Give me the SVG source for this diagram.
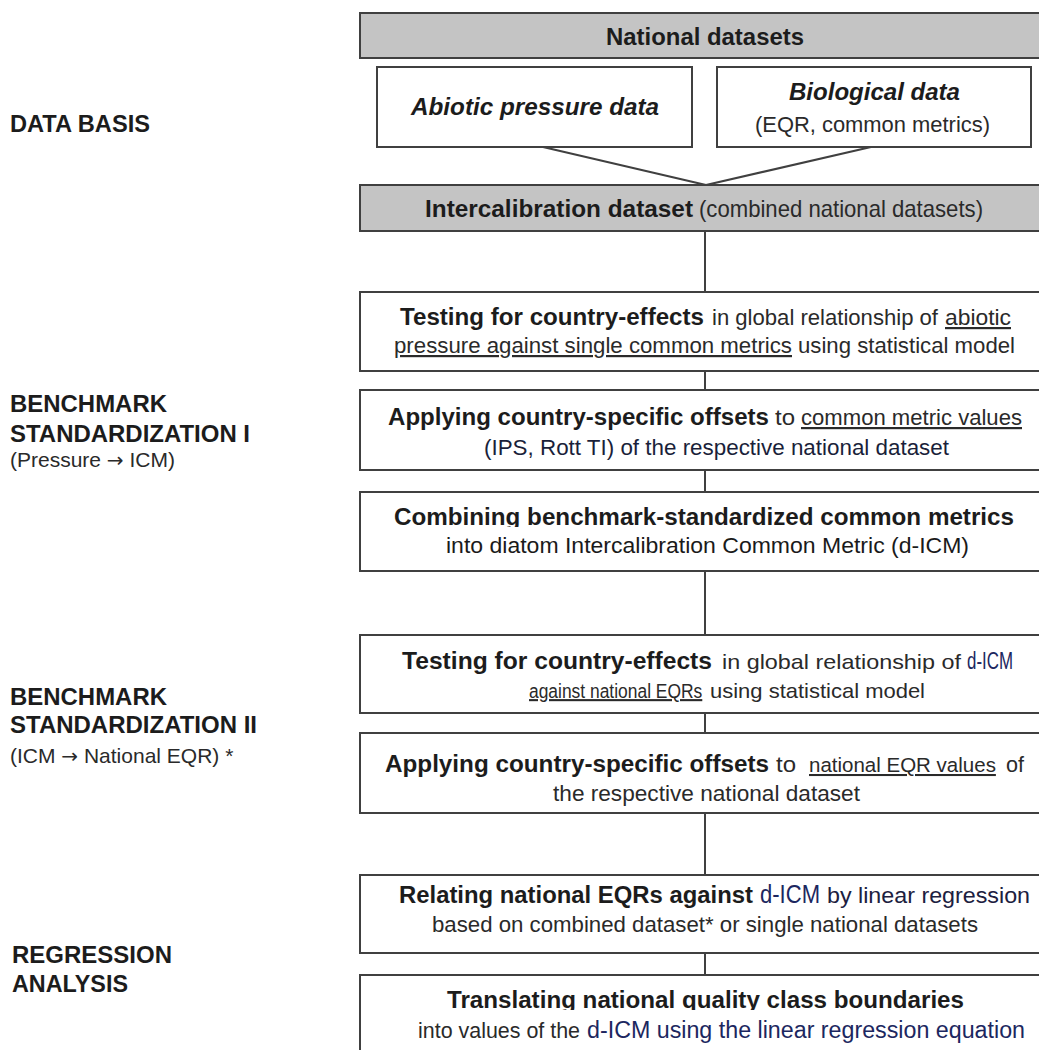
<svg xmlns="http://www.w3.org/2000/svg" width="1039" height="1050" viewBox="0 0 1039 1050">
<style>
.box{fill:#fff;stroke:#404040;stroke-width:2}
.gbox{fill:#c4c4c4;stroke:#404040;stroke-width:2}
.conn{stroke:#404040;stroke-width:2;fill:none}
text{font-family:"Liberation Sans",Arial,sans-serif;fill:#1c1c1c}
.b{font-weight:bold;font-size:23px}
.bi{font-weight:bold;font-style:italic;font-size:24px}
.r{font-size:22px;fill:#2a2a2a}
.n{font-size:23px;fill:#1c2760}
.u{text-decoration:underline}
.lb{font-weight:bold;font-size:23px}
.lr{font-size:21px;fill:#2a2a2a}
.ar{font-family:"DejaVu Sans",sans-serif;font-size:20px}
</style>
<defs>
<clipPath id="clipComb"><rect x="0" y="480" width="1039" height="47"/></clipPath>
<clipPath id="clipTrans"><rect x="0" y="970" width="1039" height="40"/></clipPath>
</defs>
<rect width="1039" height="1050" fill="#fff"/>

<g id="connectors">
<line class="conn" x1="543" y1="147" x2="706" y2="185"/>
<line class="conn" x1="871" y1="147" x2="706" y2="185"/>
<line class="conn" x1="705" y1="231" x2="705" y2="292"/>
<line class="conn" x1="705" y1="371" x2="705" y2="390"/>
<line class="conn" x1="705" y1="470" x2="705" y2="492"/>
<line class="conn" x1="705" y1="571" x2="705" y2="635"/>
<line class="conn" x1="705" y1="713" x2="705" y2="733"/>
<line class="conn" x1="705" y1="813" x2="705" y2="875"/>
<line class="conn" x1="705" y1="953" x2="705" y2="975"/>
</g>

<g id="labels">
<text class="lb" x="10" y="132" textLength="140" lengthAdjust="spacingAndGlyphs">DATA BASIS</text>
<text class="lb" x="10" y="412" textLength="157" lengthAdjust="spacingAndGlyphs">BENCHMARK</text>
<text class="lb" x="10" y="442" textLength="240" lengthAdjust="spacingAndGlyphs">STANDARDIZATION I</text>
<text class="lr" x="10" y="467">(Pressure <tspan class="ar">→</tspan> ICM)</text>
<text class="lb" x="10" y="705" textLength="157" lengthAdjust="spacingAndGlyphs">BENCHMARK</text>
<text class="lb" x="10" y="733" textLength="247" lengthAdjust="spacingAndGlyphs">STANDARDIZATION II</text>
<text class="lr" x="10" y="763">(ICM <tspan class="ar">→</tspan> National EQR) *</text>
<text class="lb" x="12" y="963" textLength="160" lengthAdjust="spacingAndGlyphs">REGRESSION</text>
<text class="lb" x="12" y="992" textLength="116" lengthAdjust="spacingAndGlyphs">ANALYSIS</text>
</g>

<g id="national">
<rect class="gbox" x="360" y="13" width="700" height="45"/>
<text class="b" x="606" y="45" style="font-size:24px" textLength="198" lengthAdjust="spacingAndGlyphs">National datasets</text>
</g>

<g id="abiotic">
<rect class="box" x="377" y="67" width="315" height="80"/>
<text class="bi" x="411" y="115" textLength="248" lengthAdjust="spacingAndGlyphs">Abiotic pressure data</text>
</g>

<g id="biological">
<rect class="box" x="717" y="67" width="314" height="80"/>
<text class="bi" x="789" y="100" textLength="171" lengthAdjust="spacingAndGlyphs">Biological data</text>
<text class="r" x="755" y="132" textLength="235" lengthAdjust="spacingAndGlyphs">(EQR, common metrics)</text>
</g>

<g id="intercalibration">
<rect class="gbox" x="360" y="185" width="700" height="46"/>
<text class="b" x="425" y="217" style="font-size:24px" textLength="268" lengthAdjust="spacingAndGlyphs">Intercalibration dataset</text>
<text class="r" x="699" y="217" style="font-size:24px" textLength="284" lengthAdjust="spacingAndGlyphs">(combined national datasets)</text>
</g>

<g id="testing1">
<rect class="box" x="360" y="292" width="700" height="79"/>
<text class="b" x="400" y="325" textLength="304" lengthAdjust="spacingAndGlyphs">Testing for country-effects</text>
<text class="r" x="712" y="325" textLength="226" lengthAdjust="spacingAndGlyphs">in global relationship of</text>
<text class="r u" x="945" y="325" textLength="66" lengthAdjust="spacingAndGlyphs">abiotic</text>
<text class="r u" x="394" y="353" textLength="398" lengthAdjust="spacingAndGlyphs">pressure against single common metrics</text>
<text class="r" x="798" y="353" textLength="217" lengthAdjust="spacingAndGlyphs">using statistical model</text>
</g>

<g id="applying1">
<rect class="box" x="360" y="390" width="700" height="80"/>
<text class="b" x="388" y="425" textLength="381" lengthAdjust="spacingAndGlyphs">Applying country-specific offsets</text>
<text class="r" x="775" y="425" textLength="20" lengthAdjust="spacingAndGlyphs">to</text>
<text class="r u" x="801" y="425" textLength="221" lengthAdjust="spacingAndGlyphs">common metric values</text>
<text class="r" x="484" y="455" textLength="465" lengthAdjust="spacingAndGlyphs" style="fill:#1a1f3a">(IPS, Rott TI) of the respective national dataset</text>
</g>

<g id="combining">
<rect class="box" x="360" y="492" width="700" height="79"/>
<text class="b" x="394" y="525" textLength="620" lengthAdjust="spacingAndGlyphs" clip-path="url(#clipComb)">Combining benchmark-standardized common metrics</text>
<text class="r" x="446" y="553" textLength="523" lengthAdjust="spacingAndGlyphs" style="fill:#1a1a1a">into diatom Intercalibration Common Metric (d-ICM)</text>
</g>

<g id="testing2">
<rect class="box" x="360" y="635" width="700" height="78"/>
<text class="b" x="402" y="669" textLength="310" lengthAdjust="spacingAndGlyphs">Testing for country-effects</text>
<text class="r" x="722" y="669" style="font-size:21px" textLength="239" lengthAdjust="spacingAndGlyphs">in global relationship of</text>
<text class="n" x="967" y="669" textLength="46" lengthAdjust="spacingAndGlyphs">d-ICM</text>
<text class="r u" transform="translate(529,698) scale(0.83,1)" x="0" y="0" style="font-size:21px">against national EQRs</text>
<text class="r" x="710" y="698" style="font-size:21px" textLength="215" lengthAdjust="spacingAndGlyphs">using statistical model</text>
</g>

<g id="applying2">
<rect class="box" x="360" y="733" width="700" height="80"/>
<text class="b" x="385" y="772" textLength="384" lengthAdjust="spacingAndGlyphs">Applying country-specific offsets</text>
<text class="r" x="776" y="772" textLength="20" lengthAdjust="spacingAndGlyphs">to</text>
<text class="r u" x="809" y="772" style="font-size:20.5px">national EQR values</text>
<text class="r" x="1006" y="772" textLength="18" lengthAdjust="spacingAndGlyphs">of</text>
<text class="r" x="553" y="801" textLength="307" lengthAdjust="spacingAndGlyphs">the respective national dataset</text>
</g>

<g id="relating">
<rect class="box" x="360" y="875" width="700" height="78"/>
<text class="b" x="399" y="903" textLength="354" lengthAdjust="spacingAndGlyphs">Relating national EQRs against</text>
<text class="n" x="760" y="903" style="font-size:26px" textLength="60" lengthAdjust="spacingAndGlyphs">d-ICM</text>
<text class="r" x="827" y="903" textLength="203" lengthAdjust="spacingAndGlyphs" style="fill:#1c2040">by linear regression</text>
<text class="r" x="432" y="932" textLength="546" lengthAdjust="spacingAndGlyphs">based on combined dataset* or single national datasets</text>
</g>

<g id="translating">
<rect class="box" x="360" y="975" width="700" height="90"/>
<text class="b" x="447" y="1008" textLength="517" lengthAdjust="spacingAndGlyphs" clip-path="url(#clipTrans)">Translating national quality class boundaries</text>
<text class="r" x="418" y="1038" textLength="162" lengthAdjust="spacingAndGlyphs">into values of the</text>
<text class="n" x="587" y="1038" textLength="438" lengthAdjust="spacingAndGlyphs">d-ICM using the linear regression equation</text>
</g>
</svg>
